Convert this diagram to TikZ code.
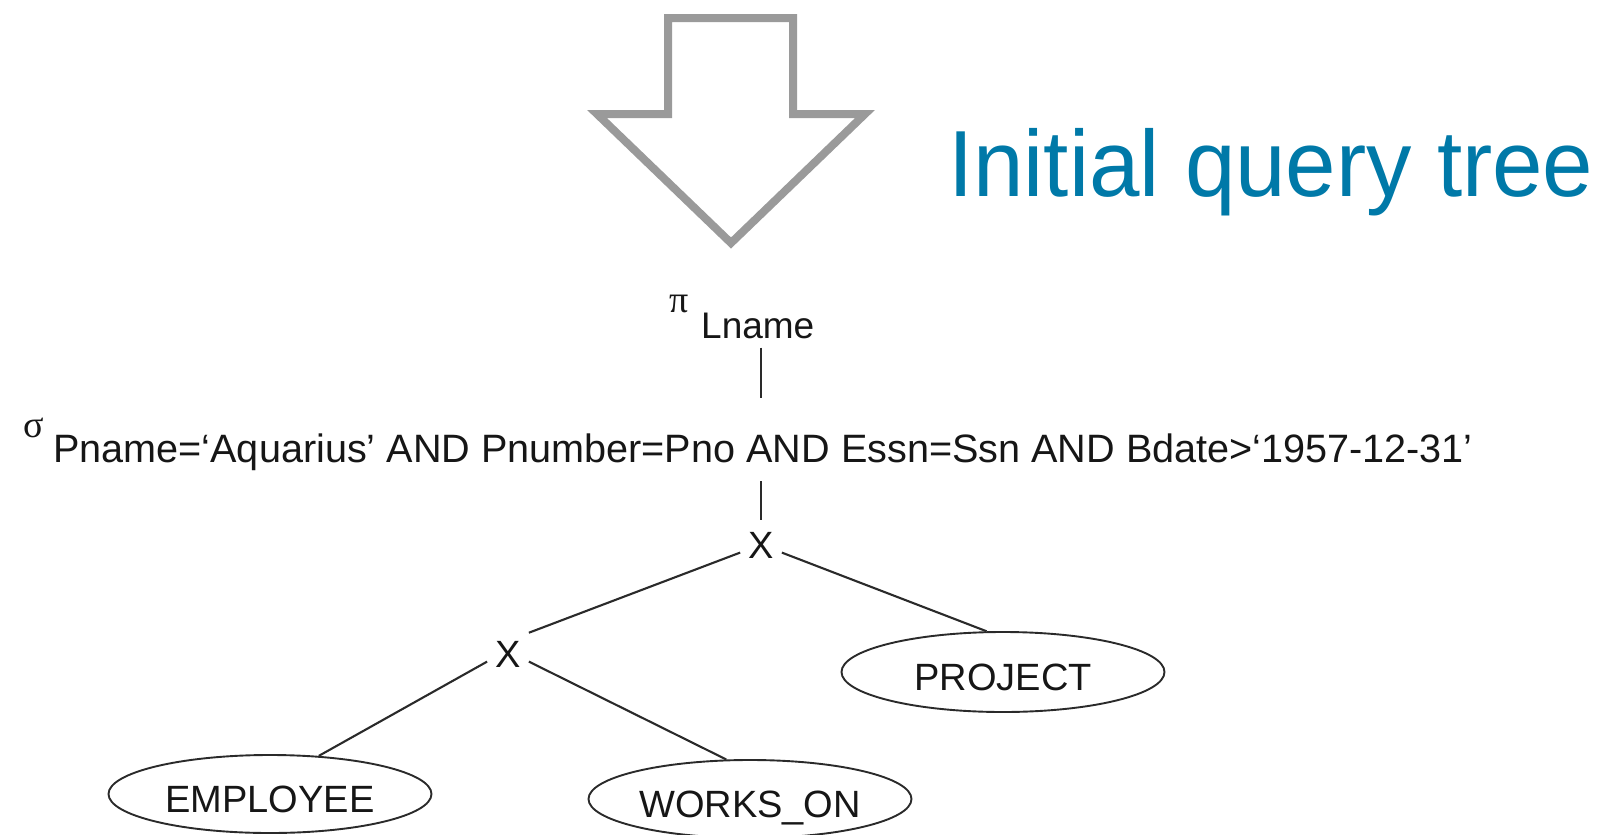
\documentclass[tikz,border=0pt]{standalone}
\usepackage{fontspec}
\setmainfont{Liberation Sans}
\newfontfamily\greekfont{Liberation Serif}
\usetikzlibrary{shapes.geometric}
\definecolor{arrowgray}{HTML}{9A9A9A}
\definecolor{titleblue}{HTML}{0079A8}
\definecolor{ink}{HTML}{161616}
\definecolor{edge}{HTML}{2A2A2A}

\begin{document}
\begin{tikzpicture}[x=1pt,y=-1pt,
  treetext/.style={text=ink, font=\fontsize{38}{44}\selectfont},
  greek/.style={text=ink, inner sep=0pt, font=\greekfont\fontsize{38}{40}\selectfont},
  product/.style={treetext, inner sep=8pt},
  relation/.style={treetext, draw=edge, line width=1.9pt, ellipse,
    minimum width=323pt, minimum height=78pt, inner xsep=-30pt, inner ysep=0pt,
    text height=36pt, text depth=0pt},
  branch/.style={draw=edge, line width=2.1pt},
  stem/.style={draw=edge, line width=2.5pt}]
\useasboundingbox (0,0) rectangle (1599,835);

% hollow down arrow
\draw[arrowgray, line width=8pt, miter limit=10]
  (668,18) -- (793,18) -- (793,114) -- (865,114) -- (731,243)
  -- (597,114) -- (668,114) -- cycle;

% caption
\node[anchor=base west, inner sep=0pt, text=titleblue,
      font=\fontsize{94}{110}\selectfont] (title) at (948,196)
  {\scalebox{0.965}[1]{Initial query tree}};

% projection
\node[greek] (pi) at (679,304) {π};
\node[treetext, anchor=base west, inner xsep=0pt, inner ysep=9pt,
      font=\fontsize{37}{42}\selectfont] (lname) at (701,338) {Lname};

% selection
\node[greek] (sigma) at (34,428) {σ};
\node[treetext, anchor=base west, inner sep=0pt, text height=64pt, text depth=19pt,
      font=\fontsize{39.6}{46}\selectfont] (sel) at (53,462)
  {Pname=‘Aquarius’ AND Pnumber=Pno AND Essn=Ssn AND Bdate>‘1957-12-31’};

% cartesian products
\node[product, inner ysep=12pt] (x1) at (761,545) {X};
\node[product] (x2) at (508,654) {X};

% base relations
\node[relation] (emp) at (270,794) {EMPLOYEE};
\node[relation] (wo) at (750,799) {WORKS\_ON};
\node[relation, minimum height=80pt] (proj) at (1003,672) {PROJECT};

% tree edges
\draw[stem] (x1 |- lname.south) -- (x1 |- sel.north);
\draw[stem] (x1 |- sel.south) -- (x1.north);
\draw[branch] (x1.200) -- (x2.north east);
\draw[branch] (x1.340) -- (proj.112);
\draw[branch] (x2.200) -- (emp.38);
\draw[branch] (x2.340) -- (wo.121);
\end{tikzpicture}
\end{document}
